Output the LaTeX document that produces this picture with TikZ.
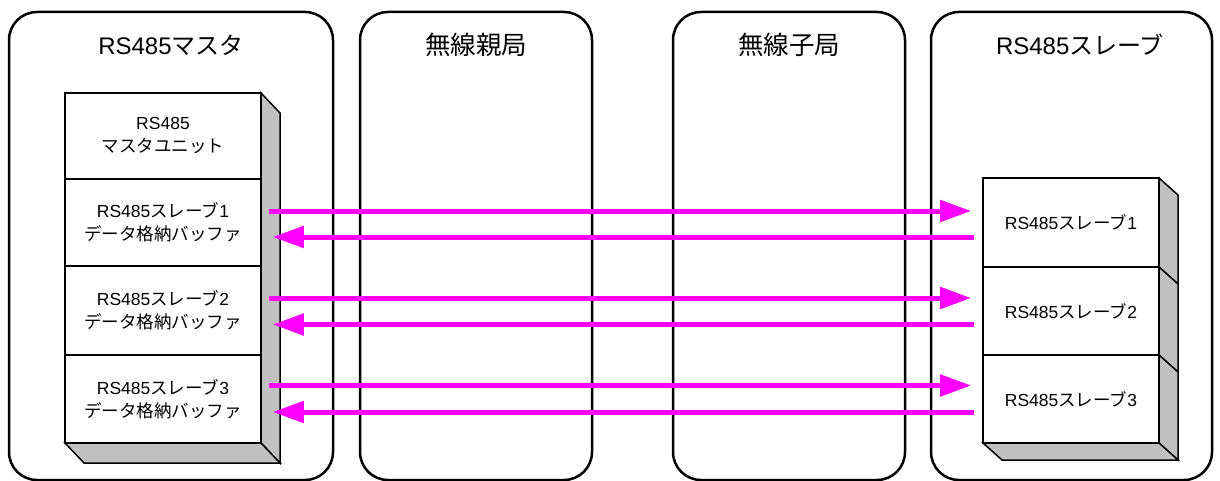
\documentclass[tikz,border=0pt]{standalone}
\usepackage{fontspec}
\setmainfont{Noto Sans CJK JP}
\newfontfamily\latf{Liberation Sans}
\newcommand{\rsf}{{\latf RS485}}
\usetikzlibrary{arrows.meta}
\definecolor{shadegray}{RGB}{192,192,192}
\definecolor{sigmag}{RGB}{255,0,255}
\begin{document}
\begin{tikzpicture}[x=1pt,y=-1pt,
 lane/.style={draw,line width=2.5pt,rounded corners=28pt},
 title/.style={font=\fontsize{24}{28}\selectfont,inner sep=0pt},
 sect/.style={draw,line width=1.6pt,fill=white,minimum width=196pt,align=center,
   font=\fontsize{17.5}{23}\selectfont,inner sep=0pt},
 ssect/.style={draw,line width=1.6pt,fill=white,minimum width=176pt,align=center,
   font=\fontsize{17.5}{23}\selectfont,inner sep=0pt},
 face/.style={draw,line width=1.5pt,fill=shadegray,line join=miter},
 sig/.style={draw=sigmag,line width=5pt,-{Triangle[length=31pt,width=21pt]}}
]
\useasboundingbox (0,0) rectangle (1220,481);
% lanes
\draw[lane] (9,12) rectangle (333,480);
\draw[lane] (360,12) rectangle (592,480);
\draw[lane] (673,12) rectangle (905,480);
\draw[lane] (931,12) rectangle (1212,480);
\node[title] (t1) at (171,45) {\rsf マスタ};
\node[title,font=\fontsize{25.5}{28}\selectfont] (t2) at (476,45) {無線親局};
\node[title,font=\fontsize{25.5}{28}\selectfont] (t3) at (789,45) {無線子局};
\node[title] (t4) at (1080,45) {\rsf スレーブ};
% master block shadow
\draw[face] (261,93) -- (280,113) -- (280,463) -- (261,443) -- cycle;
\draw[face] (65,443) -- (261,443) -- (280,463) -- (84,463) -- cycle;
% master sections
\node[sect,minimum height=86pt] (mu) at (163,136) {\rsf\\マスタユニット};
\node[sect,minimum height=87pt] (m1) at (163,222.5) {\rsf スレーブ{\latf 1}\\データ格納バッファ};
\node[sect,minimum height=89pt] (m2) at (163,310.5) {\rsf スレーブ{\latf 2}\\データ格納バッファ};
\node[sect,minimum height=88pt] (m3) at (163,399) {\rsf スレーブ{\latf 3}\\データ格納バッファ};
% slave shadows
\draw[face] (1159,178) -- (1178,195) -- (1178,284) -- (1159,267) -- cycle;
\draw[face] (1159,267) -- (1178,284) -- (1178,372) -- (1159,355) -- cycle;
\draw[face] (1159,355) -- (1178,372) -- (1178,460) -- (1159,443) -- cycle;
\draw[face] (983,443) -- (1159,443) -- (1178,460) -- (1002,460) -- cycle;
% slave sections
\node[ssect,minimum height=89pt] (s1) at (1071,222.5) {\rsf スレーブ{\latf 1}};
\node[ssect,minimum height=88pt] (s2) at (1071,311) {\rsf スレーブ{\latf 2}};
\node[ssect,minimum height=88pt] (s3) at (1071,399) {\rsf スレーブ{\latf 3}};
% signals
\draw[sig] ([xshift=7pt,yshift=11.5pt]m1.east) -- ([xshift=-11pt,yshift=11.5pt]s1.west);
\draw[sig] ([xshift=-8pt,yshift=-14.5pt]s1.west) -- ([xshift=11pt,yshift=-14.5pt]m1.east);
\draw[sig] ([xshift=7pt,yshift=12.5pt]m2.east) -- ([xshift=-11pt,yshift=13pt]s2.west);
\draw[sig] ([xshift=-8pt,yshift=-13.5pt]s2.west) -- ([xshift=11pt,yshift=-14pt]m2.east);
\draw[sig] ([xshift=7pt,yshift=13.5pt]m3.east) -- ([xshift=-11pt,yshift=13.5pt]s3.west);
\draw[sig] ([xshift=-8pt,yshift=-13pt]s3.west) -- ([xshift=11pt,yshift=-13pt]m3.east);
\end{tikzpicture}
\end{document}
